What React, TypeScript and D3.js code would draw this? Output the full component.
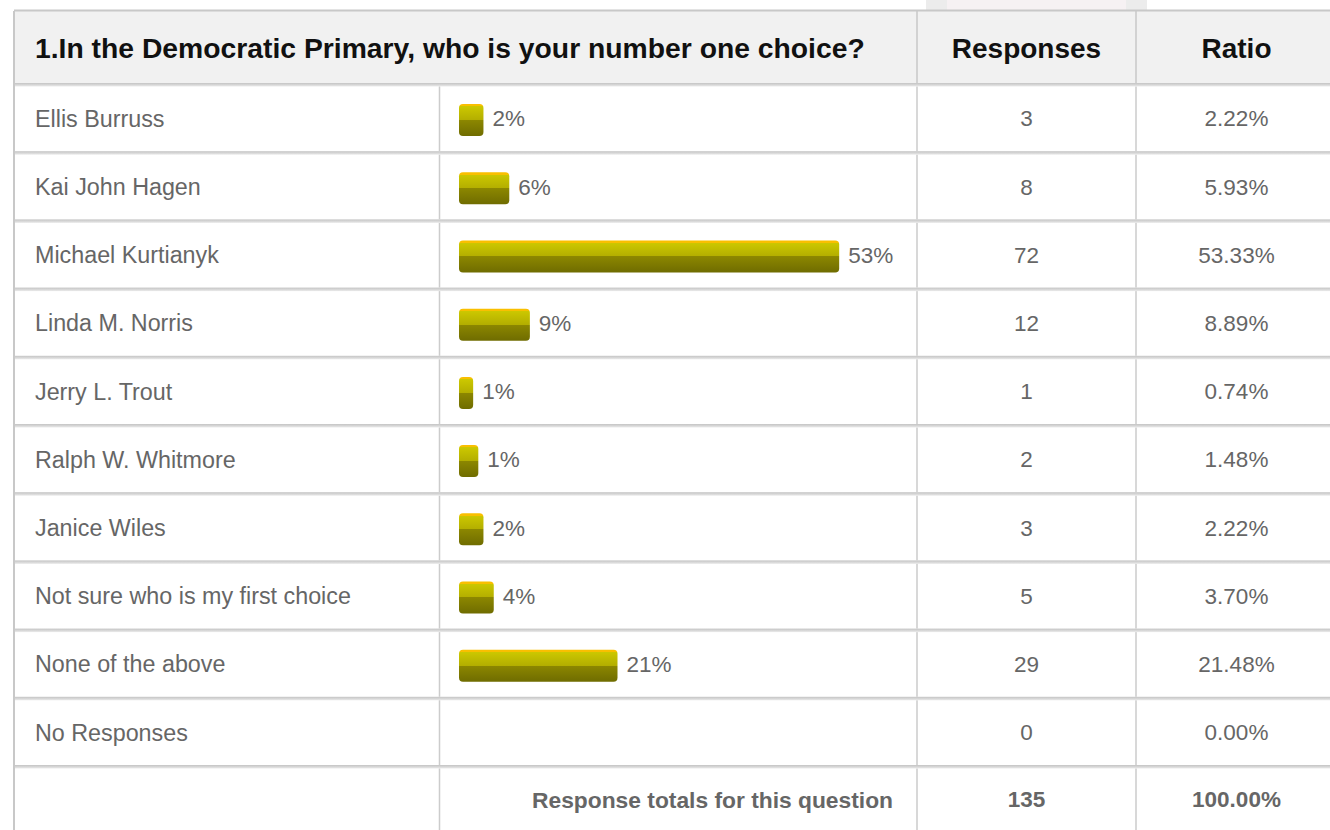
import React from "react";
import * as d3 from "d3";

const title = "1.In the Democratic Primary, who is your number one choice?";
const headers = ["Responses", "Ratio"];
const categories = [
  "Ellis Burruss",
  "Kai John Hagen",
  "Michael Kurtianyk",
  "Linda M. Norris",
  "Jerry L. Trout",
  "Ralph W. Whitmore",
  "Janice Wiles",
  "Not sure who is my first choice",
  "None of the above",
  "No Responses",
];
const responses = [3, 8, 72, 12, 1, 2, 3, 5, 29, 0];
const ratios = [2.22, 5.93, 53.33, 8.89, 0.74, 1.48, 2.22, 3.7, 21.48, 0.0];
const barLabels = ["2%", "6%", "53%", "9%", "1%", "1%", "2%", "4%", "21%", ""];
const totalLabel = "Response totals for this question";
const totalResponses = 135;
const totalRatio = "100.00%";

const W = 1330;
const H = 830;
const FONT = "'Liberation Sans', Arial, Helvetica, sans-serif";

export default function App() {
  const left = 14;
  const col1 = 439.5;
  const col2 = 917;
  const col3 = 1136;
  const right = 1337;
  const top = 11;

  // separator y positions: index 0 = header bottom, then each row
  const rowY = d3.scaleLinear().domain([0, 11]).range([84.5, 84.5 + 68.2 * 11]);
  const barStart = 459;
  const barX = d3.scaleLinear().domain([0, 100]).range([barStart + 9, barStart + 705]);

  const separators = d3.range(0, 11).map((i) => rowY(i));
  const bodySize = 23.3;

  return (
    <svg
      width={W}
      height={H}
      style={{ position: "absolute", left: 0, top: 0, background: "#fff" }}
      fontFamily={FONT}
    >
      <defs>
        <linearGradient id="barGrad" x1="0" y1="0" x2="0" y2="1">
          <stop offset="0" stopColor="#f9bf00" />
          <stop offset="0.07" stopColor="#f9bf00" />
          <stop offset="0.07" stopColor="#ccc800" />
          <stop offset="0.5" stopColor="#b3ae00" />
          <stop offset="0.5" stopColor="#8c8700" />
          <stop offset="1" stopColor="#6f6c00" />
        </linearGradient>
        <linearGradient id="sepGrad" x1="0" y1="0" x2="0" y2="1">
          <stop offset="0" stopColor="#c4c4c4" />
          <stop offset="0.5" stopColor="#d6d6d6" />
          <stop offset="1" stopColor="#ebebeb" />
        </linearGradient>
      </defs>

      {/* small tab above table */}
      <rect x={926} y={0} width={221} height={top} fill="#ececec" />
      <rect x={947} y={0} width={179} height={top} fill="#f6f1f3" />

      {/* header background */}
      <rect x={left} y={top} width={right - left} height={rowY(0) - top} fill="#f1f1f1" />
      <rect x={left} y={top - 1.5} width={right - left} height={2} fill="#c8c8c8" />

      {/* separators */}
      {separators.map((y, i) => (
        <rect key={i} x={left} y={y - 1.5} width={right - left} height={3.5} fill="url(#sepGrad)" />
      ))}

      {/* vertical lines */}
      <rect x={left - 1} y={top} width={2} height={H - top} fill="#c8c8c8" />
      {[col2, col3].map((x, i) => (
        <rect key={"h" + i} x={x - 0.75} y={top} width={1.5} height={rowY(0) - top - 1.5} fill="#c8c8c8" />
      ))}
      {d3.range(0, 11).map((i) =>
        [col1, col2, col3].map((x, j) => (
          <rect
            key={`v${i}-${j}`}
            x={x - 0.75}
            y={rowY(i) + 2}
            width={1.5}
            height={Math.min(rowY(i + 1), H + 10) - rowY(i) - 3.5}
            fill="#cccccc"
          />
        ))
      )}

      {/* header text */}
      <text x={35} y={(top + rowY(0)) / 2} dy="0.36em" fontSize={28.3} fontWeight="bold" fill="#111">
        {title}
      </text>
      <text x={(col2 + col3) / 2} y={(top + rowY(0)) / 2} dy="0.36em" fontSize={28} fontWeight="bold" fill="#111" textAnchor="middle">
        {headers[0]}
      </text>
      <text x={(col3 + right) / 2} y={(top + rowY(0)) / 2} dy="0.36em" fontSize={28} fontWeight="bold" fill="#111" textAnchor="middle">
        {headers[1]}
      </text>

      {/* rows */}
      {categories.map((c, i) => {
        const cy = (rowY(i) + rowY(i + 1)) / 2;
        const v = ratios[i];
        const hasBar = responses[i] > 0;
        const xEnd = barX(v);
        return (
          <g key={c}>
            <text x={35} y={cy} dy="0.35em" fontSize={bodySize} fill="#666">
              {c}
            </text>
            {hasBar && (
              <rect x={barStart} y={cy - 14.5} width={xEnd - barStart} height={32} rx={4} fill="url(#barGrad)" />
            )}
            {hasBar && (
              <text x={xEnd + 9} y={cy} dy="0.35em" fontSize={22.5} fill="#666">
                {barLabels[i]}
              </text>
            )}
            <text x={(col2 + col3) / 2} y={cy} dy="0.35em" fontSize={22.5} fill="#666" textAnchor="middle">
              {responses[i]}
            </text>
            <text x={(col3 + right) / 2} y={cy} dy="0.35em" fontSize={22.5} fill="#666" textAnchor="middle">
              {ratios[i].toFixed(2) + "%"}
            </text>
          </g>
        );
      })}

      {/* totals */}
      {(() => {
        const cy = (rowY(10) + rowY(11)) / 2 - 1;
        return (
          <g>
            <text x={col2 - 24} y={cy} dy="0.35em" fontSize={22.8} fontWeight="bold" fill="#666" textAnchor="end">
              {totalLabel}
            </text>
            <text x={(col2 + col3) / 2} y={cy} dy="0.35em" fontSize={22.5} fontWeight="bold" fill="#666" textAnchor="middle">
              {totalResponses}
            </text>
            <text x={(col3 + right) / 2} y={cy} dy="0.35em" fontSize={22.5} fontWeight="bold" fill="#666" textAnchor="middle">
              {totalRatio}
            </text>
          </g>
        );
      })()}
    </svg>
  );
}
